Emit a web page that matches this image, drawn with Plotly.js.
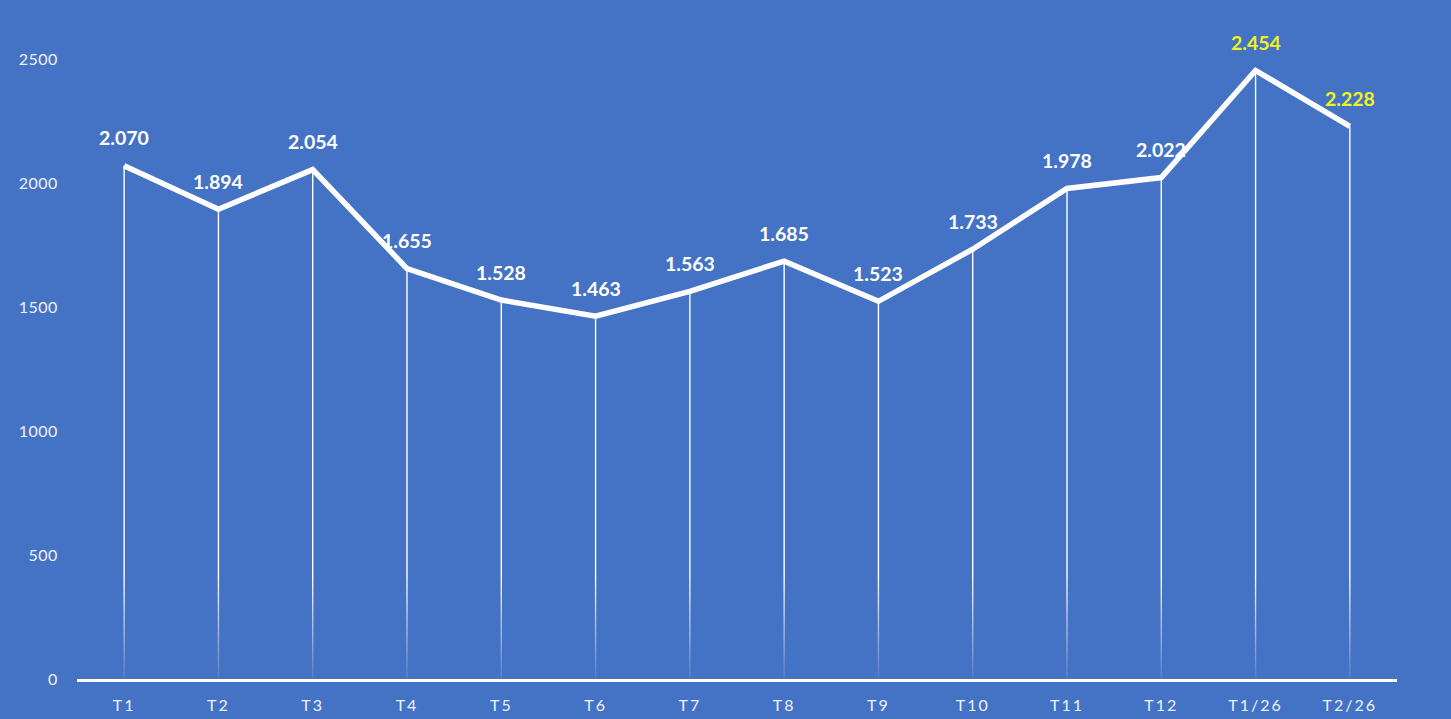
<!DOCTYPE html>
<html>
<head>
<meta charset="utf-8">
<script src="https://cdn.plot.ly/plotly-3.0.1.min.js"></script>
<style>
html,body{margin:0;padding:0;background:#4472C4;}
#chart{width:1451px;height:719px;}
.xtick text{letter-spacing:2px;}
.ytick text{letter-spacing:0.5px;}
</style>
</head>
<body>
<div id="chart"></div>
<script>
const categories = ["T1","T2","T3","T4","T5","T6","T7","T8","T9","T10","T11","T12","T1/26","T2/26"];
const values = [2070,1894,2054,1655,1528,1463,1563,1685,1523,1733,1978,2022,2454,2228];
const labelColors = ["#FFFFFF","#FFFFFF","#FFFFFF","#FFFFFF","#FFFFFF","#FFFFFF","#FFFFFF","#FFFFFF","#FFFFFF","#FFFFFF","#FFFFFF","#FFFFFF","#F2F21E","#F2F21E"];
const yTicks = [0,500,1000,1500,2000,2500];

const BG = "#4472C4";

// drop lines from each point down to the axis
const dropX = [], dropY = [];
categories.forEach((c, i) => { dropX.push(c, c, null); dropY.push(values[i], 0, null); });

const drops = {
  type: "scatter", mode: "lines", x: dropX, y: dropY,
  line: {color: "#FFFFFF", width: 1.4},
  hoverinfo: "skip", showlegend: false, cliponaxis: false
};

// fade overlay at the bottom of the drop lines
const fadeTop = 420;
const fade = {
  type: "scatter", mode: "none",
  x: [-0.5, categories.length - 0.5, categories.length - 0.5, -0.5, -0.5],
  y: [0, 0, fadeTop, fadeTop, 0],
  xaxis: "x2", yaxis: "y",
  fill: "toself",
  fillgradient: {type: "vertical", colorscale: [[0, "rgba(68,114,196,0.92)"], [1, "rgba(68,114,196,0)"]]},
  hoverinfo: "skip", showlegend: false
};

const line = {
  type: "scatter", mode: "lines", x: categories, y: values,
  line: {color: "#FFFFFF", width: 5.5, shape: "linear"},
  hoverinfo: "x+y", showlegend: false, cliponaxis: false
};

// labels with dot as thousands separator
const fmt = v => { const s = String(v); return s.length > 3 ? s.slice(0, s.length - 3) + "." + s.slice(-3) : s; };
const annotations = categories.map((c, i) => ({
  x: c, y: values[i], xref: "x", yref: "y",
  text: "<b>" + fmt(values[i]) + "</b>", showarrow: false,
  yshift: 28,
  font: {family: "Lato, 'Open Sans', sans-serif", size: 19.5, color: labelColors[i]}
}));

const layout = {
  width: 1451, height: 719,
  paper_bgcolor: BG, plot_bgcolor: BG,
  margin: {l: 77, r: 54, t: 59, b: 40},
  showlegend: false,
  font: {family: "Lato, 'Open Sans', sans-serif", color: "#FFFFFF"},
  xaxis: {
    type: "category", categoryorder: "array", categoryarray: categories,
    range: [-0.5, categories.length - 0.5],
    showgrid: false, zeroline: false,
    showline: true, linecolor: "#FFFFFF", linewidth: 2.5,
    ticks: "outside", ticklen: 10, tickcolor: "rgba(0,0,0,0)",
    tickfont: {family: "Lato, 'Open Sans', sans-serif", size: 16, color: "#EEF2FA"}
  },
  xaxis2: {
    overlaying: "x", range: [-0.5, categories.length - 0.5], visible: false
  },
  yaxis: {
    range: [0, 2500], tickvals: yTicks, ticktext: yTicks.map(String),
    showgrid: false, zeroline: false, showline: false,
    ticks: "outside", ticklen: 15, tickcolor: "rgba(0,0,0,0)",
    tickfont: {family: "Lato, 'Open Sans', sans-serif", size: 16, color: "#EEF2FA"}
  },
  annotations: annotations
};

Plotly.newPlot("chart", [drops, fade, line], layout, {displayModeBar: false, staticPlot: true});
</script>
</body>
</html>
